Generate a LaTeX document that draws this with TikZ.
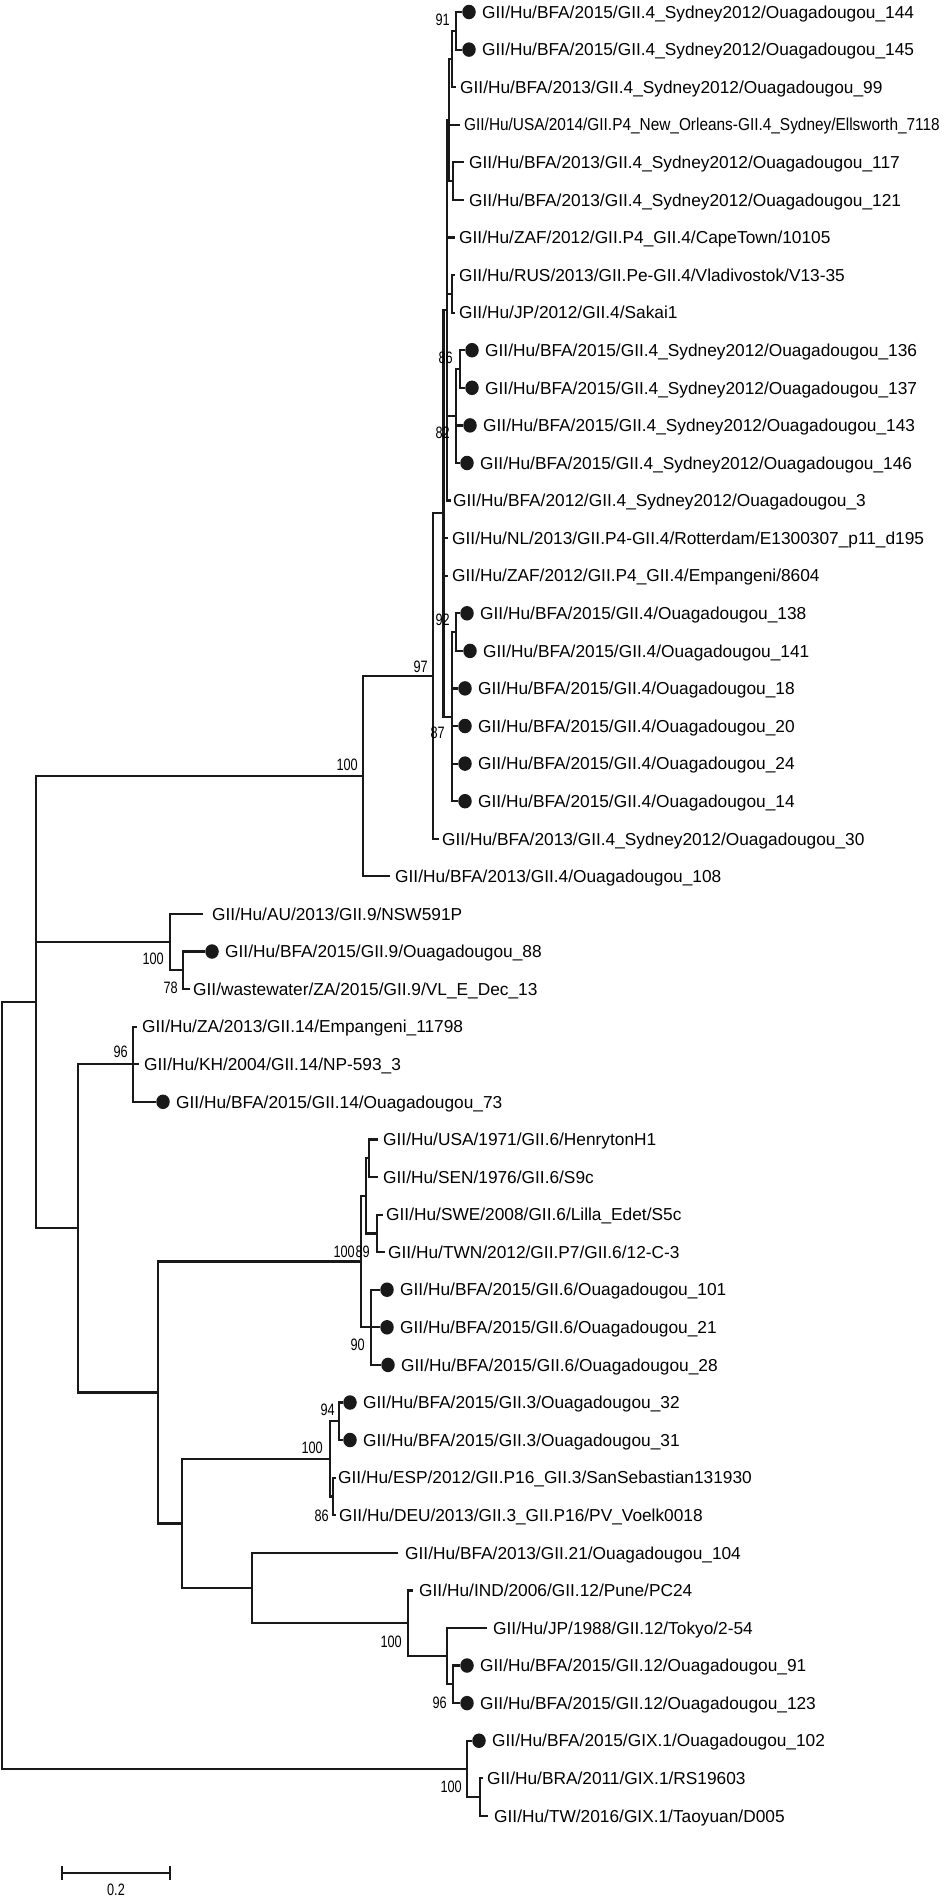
\documentclass[tikz,border=0pt]{standalone}
\usepackage{fontspec}
\setmainfont{Liberation Sans}
\tikzset{
  edge/.style={line width=2.2pt, draw=black!90, line join=miter},
  lt/.style={anchor=west, inner sep=0pt, font=\fontsize{17.3}{20}\selectfont, text height=12.4pt, text depth=0pt},
  bs/.style={anchor=east, inner sep=0pt, font=\fontsize{16.5}{18}\selectfont, text height=11.8pt, text depth=0pt},
  dotst/.style={circle, fill=black!90, inner sep=0pt, minimum width=13.5pt, minimum height=14.5pt, ellipse},
}
\newcommand\lf[4]{\coordinate (#1) at (#3,#2); \node[lt] (#1x) at ({#3+4},#2) {#4};}
\newcommand\lft[5]{\coordinate (#1) at (#3,#2); \node[lt] (#1x) at (#4,#2) {#5};}
\newcommand\dlf[4]{\coordinate (#1) at ({#3-7},#2); \node[dotst] (#1d) at (#3,#2) {}; \node[lt] (#1x) at ({#3+13},#2) {#4};}
\newcommand\bsl[4]{\node[bs] (#1) at (#2,#3) {\scalebox{0.77}[1]{#4}};}
\newcommand\br[2]{\draw[edge] (#1) |- (#2);}
\usetikzlibrary{shapes.geometric}
\begin{document}
\begin{tikzpicture}[x=1pt,y=-1pt]
\useasboundingbox (0,0) rectangle (945,1901);
% leaves
\dlf{t1}{12.0}{469}{GII/Hu/BFA/2015/GII.4\_Sydney2012/Ouagadougou\_144}
\dlf{t2}{49.6}{469}{GII/Hu/BFA/2015/GII.4\_Sydney2012/Ouagadougou\_145}
\lft{t3}{87.2}{456}{460}{GII/Hu/BFA/2013/GII.4\_Sydney2012/Ouagadougou\_99}
\lft{t4}{124.7}{460}{464}{\scalebox{0.89}[1]{GII/Hu/USA/2014/GII.P4\_New\_Orleans-GII.4\_Sydney/Ellsworth\_7118}}
\lft{t5}{162.3}{464}{469}{GII/Hu/BFA/2013/GII.4\_Sydney2012/Ouagadougou\_117}
\lft{t6}{199.9}{464}{469}{GII/Hu/BFA/2013/GII.4\_Sydney2012/Ouagadougou\_121}
\lft{t7}{237.5}{455}{459}{GII/Hu/ZAF/2012/GII.P4\_GII.4/CapeTown/10105}
\lft{t8}{275.1}{455}{459}{GII/Hu/RUS/2013/GII.Pe-GII.4/Vladivostok/V13-35}
\lft{t9}{312.6}{455}{459}{GII/Hu/JP/2012/GII.4/Sakai1}
\dlf{t10}{350.2}{472}{GII/Hu/BFA/2015/GII.4\_Sydney2012/Ouagadougou\_136}
\dlf{t11}{387.8}{472}{GII/Hu/BFA/2015/GII.4\_Sydney2012/Ouagadougou\_137}
\dlf{t12}{425.4}{470}{GII/Hu/BFA/2015/GII.4\_Sydney2012/Ouagadougou\_143}
\dlf{t13}{463.0}{467}{GII/Hu/BFA/2015/GII.4\_Sydney2012/Ouagadougou\_146}
\lft{t14}{500.5}{451}{453}{GII/Hu/BFA/2012/GII.4\_Sydney2012/Ouagadougou\_3}
\lft{t15}{538.1}{448}{452}{GII/Hu/NL/2013/GII.P4-GII.4/Rotterdam/E1300307\_p11\_d195}
\lft{t16}{575.7}{448}{452}{GII/Hu/ZAF/2012/GII.P4\_GII.4/Empangeni/8604}
\dlf{t17}{613.3}{467}{GII/Hu/BFA/2015/GII.4/Ouagadougou\_138}
\dlf{t18}{650.9}{470}{GII/Hu/BFA/2015/GII.4/Ouagadougou\_141}
\dlf{t19}{688.4}{465}{GII/Hu/BFA/2015/GII.4/Ouagadougou\_18}
\dlf{t20}{726.0}{465}{GII/Hu/BFA/2015/GII.4/Ouagadougou\_20}
\dlf{t21}{763.6}{465}{GII/Hu/BFA/2015/GII.4/Ouagadougou\_24}
\dlf{t22}{801.2}{465}{GII/Hu/BFA/2015/GII.4/Ouagadougou\_14}
\lft{t23}{838.8}{439}{442}{GII/Hu/BFA/2013/GII.4\_Sydney2012/Ouagadougou\_30}
\lft{t24}{876.3}{390}{395}{GII/Hu/BFA/2013/GII.4/Ouagadougou\_108}
\lft{t25}{913.9}{203}{212}{GII/Hu/AU/2013/GII.9/NSW591P}
\dlf{t26}{951.5}{212}{GII/Hu/BFA/2015/GII.9/Ouagadougou\_88}
\lft{t27}{989.1}{190}{193}{GII/wastewater/ZA/2015/GII.9/VL\_E\_Dec\_13}
\lft{t28}{1026.7}{137}{142}{GII/Hu/ZA/2013/GII.14/Empangeni\_11798}
\lft{t29}{1064.2}{139}{144}{GII/Hu/KH/2004/GII.14/NP-593\_3}
\dlf{t30}{1101.8}{163}{GII/Hu/BFA/2015/GII.14/Ouagadougou\_73}
\lft{t31}{1139.4}{378}{383}{GII/Hu/USA/1971/GII.6/HenrytonH1}
\lft{t32}{1177.0}{378}{383}{GII/Hu/SEN/1976/GII.6/S9c}
\lft{t33}{1214.6}{383}{386}{GII/Hu/SWE/2008/GII.6/Lilla\_Edet/S5c}
\lft{t34}{1252.1}{385}{388}{GII/Hu/TWN/2012/GII.P7/GII.6/12-C-3}
\dlf{t35}{1289.7}{387}{GII/Hu/BFA/2015/GII.6/Ouagadougou\_101}
\dlf{t36}{1327.3}{387}{GII/Hu/BFA/2015/GII.6/Ouagadougou\_21}
\dlf{t37}{1364.9}{388}{GII/Hu/BFA/2015/GII.6/Ouagadougou\_28}
\dlf{t38}{1402.5}{350}{GII/Hu/BFA/2015/GII.3/Ouagadougou\_32}
\dlf{t39}{1440.0}{350}{GII/Hu/BFA/2015/GII.3/Ouagadougou\_31}
\lft{t40}{1477.6}{336}{338}{GII/Hu/ESP/2012/GII.P16\_GII.3/SanSebastian131930}
\lft{t41}{1515.2}{336}{339}{GII/Hu/DEU/2013/GII.3\_GII.P16/PV\_Voelk0018}
\lft{t42}{1552.8}{398}{405}{GII/Hu/BFA/2013/GII.21/Ouagadougou\_104}
\lft{t43}{1590.4}{413}{419}{GII/Hu/IND/2006/GII.12/Pune/PC24}
\lft{t44}{1627.9}{487}{493}{GII/Hu/JP/1988/GII.12/Tokyo/2-54}
\dlf{t45}{1665.5}{467}{GII/Hu/BFA/2015/GII.12/Ouagadougou\_91}
\dlf{t46}{1703.1}{467}{GII/Hu/BFA/2015/GII.12/Ouagadougou\_123}
\dlf{t47}{1740.7}{479}{GII/Hu/BFA/2015/GIX.1/Ouagadougou\_102}
\lft{t48}{1778.3}{483}{487}{GII/Hu/BRA/2011/GIX.1/RS19603}
\lft{t49}{1815.8}{488}{494}{GII/Hu/TW/2016/GIX.1/Taoyuan/D005}
% internal nodes
\coordinate (Sn) at (456,30.8);
\coordinate (Tn) at (452,59);
\coordinate (Wn) at (453,181.1);
\coordinate (Un) at (449,120);
\coordinate (Xn) at (452,293.9);
\coordinate (Yn) at (460,369);
\coordinate (Zn) at (456,416);
\coordinate (Sp) at (447,310);
\coordinate (BBn) at (456,632.1);
\coordinate (AAn) at (452,716.6);
\coordinate (Rn) at (443.5,513.3);
\coordinate (Qn) at (433,676);
\coordinate (Pn) at (363,776.2);
\coordinate (B9n) at (183,970.3);
\coordinate (G9n) at (170,942.1);
\coordinate (G14n) at (133,1064.2);
\coordinate (Nn) at (369,1158.2);
\coordinate (On) at (377,1233.4);
\coordinate (Mn) at (366,1195.8);
\coordinate (Ln) at (371,1327.3);
\coordinate (G6n) at (361,1261.5);
\coordinate (Jn) at (339,1421.3);
\coordinate (Kn) at (333,1496.4);
\coordinate (G3n) at (330,1458.8);
\coordinate (Hn) at (453,1684.3);
\coordinate (Gn) at (447,1656.1);
\coordinate (G12n) at (408,1623.3);
\coordinate (Fn) at (252,1588);
\coordinate (En) at (182,1523.4);
\coordinate (Dn) at (158,1392.4);
\coordinate (Cn) at (78,1228.3);
\coordinate (An) at (36,1002.2);
\coordinate (In) at (480,1797);
\coordinate (GIXn) at (467,1768.9);
\coordinate (Root) at (2,1385.5);
% branches
\br{Sn}{t1}\br{Sn}{t2}
\br{Tn}{Sn}\br{Tn}{t3}
\br{Wn}{t5}\br{Wn}{t6}
\br{Un}{Tn}\br{Un}{t4}\br{Un}{Wn}
\br{Xn}{t8}\br{Xn}{t9}
\br{Yn}{t10}\br{Yn}{t11}
\br{Zn}{Yn}\br{Zn}{t12}\br{Zn}{t13}
\br{Sp}{Un}\br{Sp}{t7}\br{Sp}{Xn}\br{Sp}{Zn}\br{Sp}{t14}
\br{BBn}{t17}\br{BBn}{t18}
\br{AAn}{BBn}\br{AAn}{t19}\br{AAn}{t20}\br{AAn}{t21}\br{AAn}{t22}
\br{Rn}{Sp}\br{Rn}{t15}\br{Rn}{t16}\br{Rn}{AAn}
\br{Qn}{Rn}\br{Qn}{t23}
\br{Pn}{Qn}\br{Pn}{t24}
\br{B9n}{t26}\br{B9n}{t27}
\br{G9n}{t25}\br{G9n}{B9n}
\br{G14n}{t28}\br{G14n}{t29}\br{G14n}{t30}
\br{Nn}{t31}\br{Nn}{t32}
\br{On}{t33}\br{On}{t34}
\br{Mn}{Nn}\br{Mn}{On}
\br{Ln}{t35}\br{Ln}{t36}\br{Ln}{t37}
\br{G6n}{Mn}\br{G6n}{Ln}
\br{Jn}{t38}\br{Jn}{t39}
\br{Kn}{t40}\br{Kn}{t41}
\br{G3n}{Jn}\br{G3n}{Kn}
\br{Hn}{t45}\br{Hn}{t46}
\br{Gn}{t44}\br{Gn}{Hn}
\br{G12n}{t43}\br{G12n}{Gn}
\br{Fn}{t42}\br{Fn}{G12n}
\br{En}{G3n}\br{En}{Fn}
\br{Dn}{G6n}\br{Dn}{En}
\br{Cn}{G14n}\br{Cn}{Dn}
\br{An}{Pn}\br{An}{G9n}\br{An}{Cn}
\br{In}{t48}\br{In}{t49}
\br{GIXn}{t47}\br{GIXn}{In}
\br{Root}{An}\br{Root}{GIXn}
% bootstrap values
\bsl{b91}{450}{20}{91}
\bsl{b86a}{453}{358}{86}
\bsl{b82}{450}{433}{82}
\bsl{b92}{450}{620}{92}
\bsl{b97}{428}{667}{97}
\bsl{b87}{445}{733}{87}
\bsl{b100a}{358}{765}{100}
\bsl{b100b}{164}{959}{100}
\bsl{b78}{178}{988}{78}
\bsl{b96a}{128}{1052}{96}
\bsl{b100c}{355}{1252}{100}
\bsl{b89}{370}{1252}{89}
\bsl{b90}{365}{1345}{90}
\bsl{b94}{335}{1410}{94}
\bsl{b100d}{323}{1448}{100}
\bsl{b86b}{329}{1516}{86}
\bsl{b100e}{402}{1642}{100}
\bsl{b96b}{447}{1703}{96}
\bsl{b100f}{462}{1787}{100}
% scale bar
\coordinate (sb1) at (62,1873);
\coordinate (sb2) at (170,1873);
\draw[edge] (sb1) -- (sb2);
\draw[edge] ([yshift=-7pt]sb1) -- ([yshift=7pt]sb1);
\draw[edge] ([yshift=-7pt]sb2) -- ([yshift=7pt]sb2);
\node[bs, anchor=center] (sbl) at (116,1890) {\scalebox{0.77}[1]{0.2}};
\end{tikzpicture}
\end{document}
